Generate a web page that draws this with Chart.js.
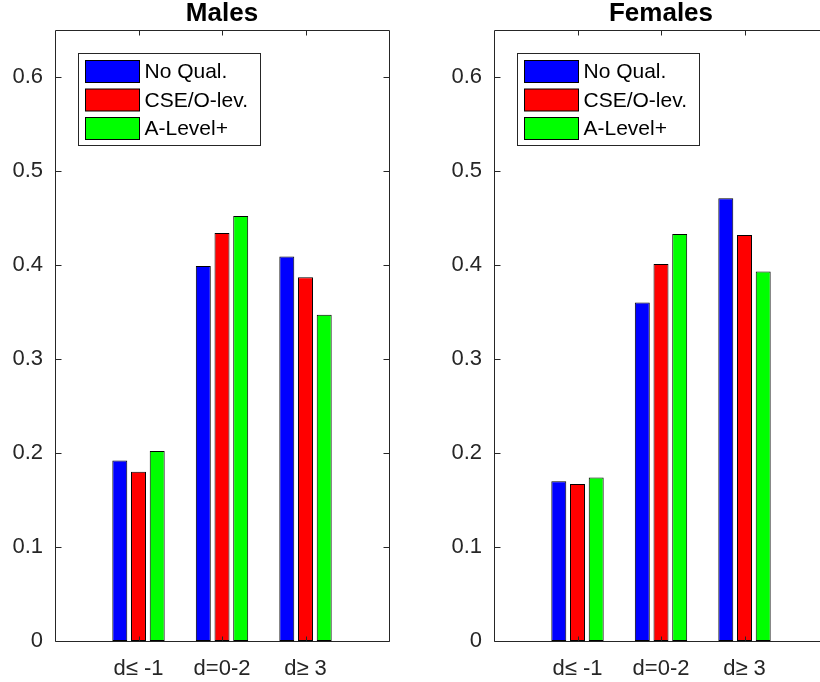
<!DOCTYPE html>
<html>
<head>
<meta charset="utf-8">
<script src="https://cdn.jsdelivr.net/npm/chart.js@4"></script>
<style>
  html, body { margin: 0; padding: 0; background: #fff; }
  #wrap { position: relative; width: 820px; height: 682px; overflow: hidden; }
  canvas { position: absolute; top: 0; }
  #males { left: 0; }
  #females { left: 410px; }
</style>
</head>
<body>
<div id="wrap">
  <canvas id="males" width="444" height="682"></canvas>
  <canvas id="females" width="502" height="682"></canvas>
</div>
<script>
// categories and series
const categories = ['d\u2264 -1', 'd=0-2', 'd\u2265 3'];
const seriesNames = ['No Qual.', 'CSE/O-lev.', 'A-Level+'];
const seriesColors = ['#0000ff', '#ff0000', '#00ff00'];

const malesNoQual = [0.192, 0.399, 0.409];
const malesCse    = [0.180, 0.434, 0.387];
const malesALevel = [0.202, 0.452, 0.347];

const femalesNoQual = [0.170, 0.360, 0.471];
const femalesCse    = [0.167, 0.401, 0.432];
const femalesALevel = [0.174, 0.433, 0.393];

const yTicks = [0, 0.1, 0.2, 0.3, 0.4, 0.5, 0.6];
const yMax = 0.65;

const FONT = '"Liberation Sans", Arial, Helvetica, sans-serif';
const AXIS = '#262626';

// empty slot at each end so the categories sit at 1..3 of a 0..4 range
const xLabels = ['', ...categories, ''];
const pad = arr => [null, ...arr, null];

// box around the plot with inward ticks on all sides
const matlabAxes = {
  id: 'matlabAxes',
  afterDatasetsDraw(chart) {
    const {ctx, chartArea: a, scales: {x, y}} = chart;
    const p = v => Math.round(v) + 0.5;
    const L = p(a.left), R = p(a.right), T = p(a.top), B = p(a.bottom);
    ctx.save();
    ctx.strokeStyle = AXIS;
    ctx.lineWidth = 1;
    ctx.beginPath();
    ctx.rect(L, T, R - L, B - T);
    y.ticks.forEach(t => {
      const yy = p(y.getPixelForValue(t.value));
      ctx.moveTo(L, yy); ctx.lineTo(L + 6, yy);
      ctx.moveTo(R, yy); ctx.lineTo(R - 6, yy);
    });
    x.ticks.forEach((t, i) => {
      if (!xLabels[i]) return;
      const xx = p(x.getPixelForTick(i));
      ctx.moveTo(xx, B); ctx.lineTo(xx, B - 5);
      ctx.moveTo(xx, T); ctx.lineTo(xx, T + 5);
    });
    ctx.stroke();
    ctx.restore();
  }
};

// boxed legend in the upper left of the plot
const boxLegend = {
  id: 'boxLegend',
  afterDraw(chart) {
    const {ctx, chartArea: a} = chart;
    const bx = Math.round(a.left) + 23.5, by = Math.round(a.top) + 23.5;
    ctx.save();
    ctx.fillStyle = '#fff';
    ctx.fillRect(bx, by, 182, 92);
    ctx.strokeStyle = AXIS;
    ctx.lineWidth = 1;
    ctx.strokeRect(bx, by, 182, 92);
    ctx.font = '21px ' + FONT;
    ctx.textBaseline = 'middle';
    chart.data.datasets.forEach((ds, i) => {
      const sy = by + 7 + i * 28.5;
      ctx.fillStyle = ds.backgroundColor;
      ctx.fillRect(bx + 7, sy, 54, 22);
      ctx.strokeStyle = '#000';
      ctx.strokeRect(bx + 7, sy, 54, 22);
      ctx.fillStyle = '#000';
      ctx.fillText(ds.label, bx + 66, sy + 12);
    });
    ctx.restore();
  }
};

function makeChart(id, title, values, yWidth) {
  return new Chart(document.getElementById(id), {
    type: 'bar',
    data: {
      labels: xLabels,
      datasets: values.map((v, i) => ({
        label: seriesNames[i],
        data: pad(v),
        backgroundColor: seriesColors[i],
        borderColor: '#000',
        borderWidth: 1,
        borderSkipped: false,
        categoryPercentage: 0.672,
        barPercentage: 0.8
      }))
    },
    options: {
      responsive: false,
      animation: false,
      layout: { padding: 0 },
      plugins: {
        legend: { display: false },
        tooltip: { enabled: false },
        title: {
          display: true,
          text: title,
          color: '#000',
          font: { family: FONT, size: 26, weight: 'bold', lineHeight: 1 },
          padding: { top: 1, bottom: 3 }
        }
      },
      scales: {
        x: {
          offset: false,
          grid: { display: false, drawTicks: false },
          border: { display: false },
          ticks: {
            color: AXIS,
            font: { family: FONT, size: 22, lineHeight: 1 },
            padding: 17,
            autoSkip: false,
            maxRotation: 0
          },
          afterFit: s => { s.height = 41; }
        },
        y: {
          min: 0,
          max: yMax,
          grid: { display: false, drawTicks: false },
          border: { display: false },
          afterBuildTicks: s => { s.ticks = yTicks.map(v => ({ value: v })); },
          ticks: {
            color: AXIS,
            font: { family: FONT, size: 22 },
            padding: 12,
            callback: v => (v === 0 ? '0' : v.toFixed(1))
          },
          afterFit: s => { s.width = yWidth; }
        },
        // blank right-hand margin so the plot sits centred under the title
        yRight: {
          position: 'right',
          grid: { display: false, drawTicks: false },
          border: { display: false },
          ticks: { display: false },
          afterFit: s => { s.width = yWidth; }
        }
      }
    },
    plugins: [matlabAxes, boxLegend]
  });
}

makeChart('males', 'Males', [malesNoQual, malesCse, malesALevel], 55);
makeChart('females', 'Females', [femalesNoQual, femalesCse, femalesALevel], 84);
</script>
</body>
</html>
